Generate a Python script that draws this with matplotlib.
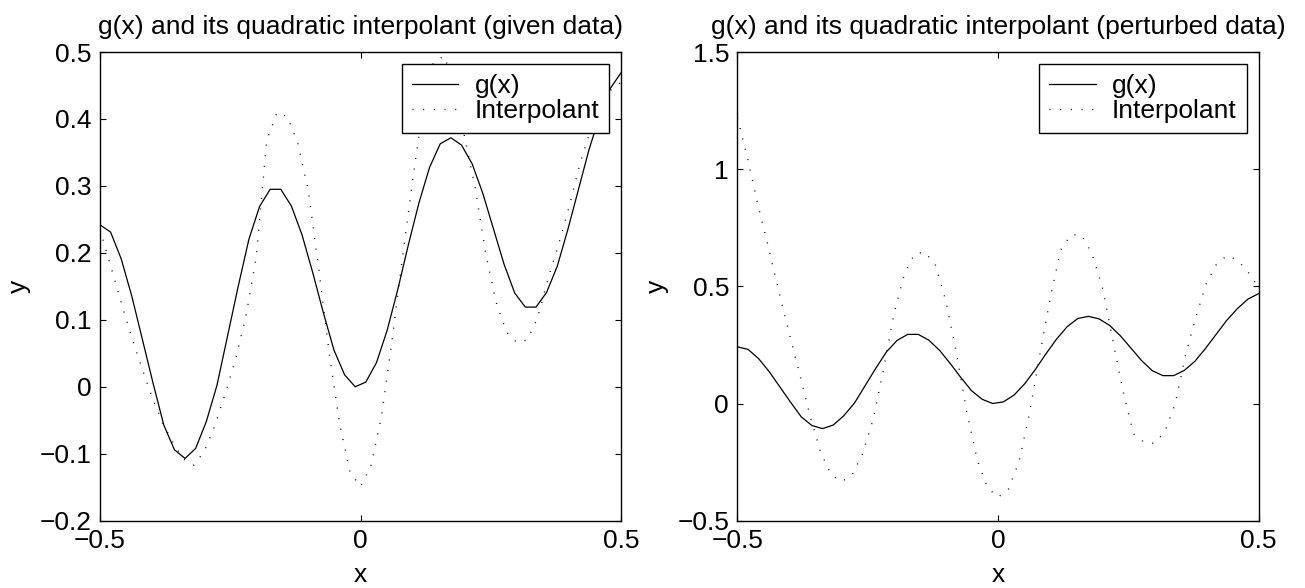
import matplotlib
matplotlib.use("Agg")
import matplotlib.pyplot as plt
import numpy as np

plt.rcParams['font.family'] = ['Liberation Sans', 'DejaVu Sans']
plt.rcParams['font.size'] = 19

# g(x) sampled on 50 points between -0.5 and 0.5
x_g = np.linspace(-0.5, 0.5, 50)
g_vals = [0.242, 0.231, 0.191, 0.135, 0.070, 0.005, -0.057, -0.094, -0.107, -0.092,
          -0.052, 0.002, 0.076, 0.150, 0.220, 0.269, 0.295, 0.295, 0.270, 0.227,
          0.171, 0.111, 0.055, 0.018, 0.000, 0.007, 0.036, 0.084, 0.145, 0.212,
          0.275, 0.328, 0.363, 0.372, 0.361, 0.333, 0.289, 0.236, 0.183, 0.140,
          0.119, 0.119, 0.141, 0.180, 0.235, 0.295, 0.355, 0.405, 0.446, 0.469]

# interpolants read on a 0.02 grid
x_p = np.arange(-25, 26) / 50
interp_given = [0.235, 0.182, 0.128, 0.076, 0.029, -0.015, -0.054, -0.083, -0.108, -0.117,
                -0.097, -0.059, -0.011, 0.040, 0.105, 0.194, 0.368, 0.410, 0.403, 0.363,
                0.292, 0.175, 0.050, -0.056, -0.128, -0.149, -0.118, -0.045, 0.066, 0.190,
                0.308, 0.419, 0.485, 0.494, 0.455, 0.372, 0.298, 0.200, 0.127, 0.082,
                0.066, 0.070, 0.103, 0.162, 0.212, 0.268, 0.330, 0.380, 0.420, 0.443,
                0.455]
interp_pert = [1.220, 1.040, 0.841, 0.662, 0.473, 0.294, 0.120, -0.060, -0.210, -0.305,
               -0.333, -0.305, -0.215, -0.070, 0.143, 0.380, 0.550, 0.640, 0.646, 0.590,
               0.436, 0.216, -0.036, -0.240, -0.360, -0.400, -0.365, -0.250, -0.045, 0.207,
               0.450, 0.655, 0.720, 0.720, 0.640, 0.497, 0.273, 0.050, -0.130, -0.165,
               -0.170, -0.120, 0.000, 0.210, 0.373, 0.515, 0.598, 0.632, 0.610, 0.560,
               0.495]

titles = ['g(x) and its quadratic interpolant (given data)',
          'g(x) and its quadratic interpolant (perturbed data)']
yticks_left = [-0.2, -0.1, 0, 0.1, 0.2, 0.3, 0.4, 0.5]
yticks_right = [-0.5, 0, 0.5, 1, 1.5]
xticks = [-0.5, 0, 0.5]


def lab(v):
    s = ('%g' % v)
    return s.replace('-', '\u2212')


fig = plt.figure(figsize=(13.05, 5.88), dpi=100)
ax1 = fig.add_axes([0.0766, 0.1145, 0.3993, 0.797])
ax2 = fig.add_axes([0.5651, 0.1145, 0.3994, 0.797])

for ax, yi, title, yt in [(ax1, interp_given, titles[0], yticks_left),
                          (ax2, interp_pert, titles[1], yticks_right)]:
    ax.plot(x_g, g_vals, color='black', lw=0.9, label='g(x)')
    ax.plot(x_p, yi, color='black', lw=1.0, linestyle=(0, (0.7, 7.0)),
            label='Interpolant')
    ax.set_xlim(-0.5, 0.5)
    ax.set_ylim(yt[0], yt[-1])
    ax.set_xticks(xticks)
    ax.set_xticklabels([lab(v) for v in xticks])
    ax.set_yticks(yt)
    ax.set_yticklabels([lab(v) for v in yt])
    ax.tick_params(direction='in', length=4, width=0.8, top=True, right=True,
                   labelsize=19, pad=6)
    for sp in ax.spines.values():
        sp.set_linewidth(1.0)
    ax.set_title(title, fontsize=19, pad=13)
    ax.set_xlabel('x', fontsize=19, labelpad=7)
    ax.set_ylabel('y', fontsize=19, labelpad=6)
    leg = ax.legend(loc='upper right', fontsize=19, frameon=True, fancybox=False,
                    borderaxespad=0.45, handlelength=1.75, handletextpad=0.62,
                    borderpad=0.38, labelspacing=0.05)
    leg.get_frame().set_edgecolor('black')
    leg.get_frame().set_linewidth(1.0)
    leg.get_frame().set_alpha(1)

fig.savefig('out.png', dpi=100, facecolor='white')
